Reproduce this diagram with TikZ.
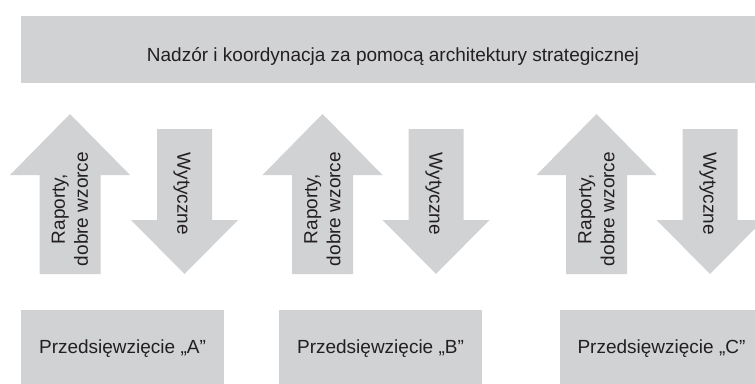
\documentclass[tikz,border=0pt]{standalone}
\usepackage{fontspec}
\setmainfont{Liberation Sans}
\definecolor{boxgray}{RGB}{209,210,212}
\definecolor{inkgray}{RGB}{35,31,32}
\tikzset{
  box/.style={fill=boxgray, text=inkgray, inner sep=0pt},
  arrowfill/.style={fill=boxgray},
  uptext/.style={text=inkgray, align=center, rotate=90, inner sep=0pt},
  downtext/.style={text=inkgray, rotate=-90, inner sep=0pt}
}
\begin{document}
\begin{tikzpicture}[x=1pt, y=-1pt, font=\fontsize{19}{23}\selectfont]
  \clip (0,0) rectangle (755,383);

  \node[box, minimum width=744pt, minimum height=67pt] (top) at (393,49.5) {};
  \node[text=inkgray, inner sep=0pt] (toptext) at ([yshift=-7pt]top.center) {Nadzór i koordynacja za pomocą architektury strategicznej};

  \node[box, minimum width=203pt, minimum height=78pt] (pa) at (122.5,349) {Przedsięwzięcie „A”};
  \node[box, minimum width=203pt, minimum height=78pt] (pb) at (380.5,349) {Przedsięwzięcie „B”};
  \node[box, minimum width=203pt, minimum height=78pt] (pc) at (661.5,349) {Przedsięwzięcie „C”};

  \fill[arrowfill, shift={(70,0)}] (-30.5,274) -- (-30.5,175) -- (-60,175) -- (0,114) -- (60,175) -- (30.5,175) -- (30.5,274) -- cycle;
  \fill[arrowfill, shift={(322.5,0)}] (-30.5,274) -- (-30.5,175) -- (-60,175) -- (0,114) -- (60,175) -- (30.5,175) -- (30.5,274) -- cycle;
  \fill[arrowfill, shift={(596.5,0)}] (-30.5,274) -- (-30.5,175) -- (-60,175) -- (0,114) -- (60,175) -- (30.5,175) -- (30.5,274) -- cycle;

  \fill[arrowfill, shift={(184.5,0)}] (-27.5,129) -- (-27.5,220) -- (-53.5,220) -- (0,274) -- (53.5,220) -- (27.5,220) -- (27.5,129) -- cycle;
  \fill[arrowfill, shift={(436,0)}] (-27.5,129) -- (-27.5,220) -- (-53.5,220) -- (0,274) -- (53.5,220) -- (27.5,220) -- (27.5,129) -- cycle;
  \fill[arrowfill, shift={(710,0)}] (-27.5,129) -- (-27.5,220) -- (-53.5,220) -- (0,274) -- (53.5,220) -- (27.5,220) -- (27.5,129) -- cycle;

  \node[uptext] (ra) at (70,209) {Raporty,\\dobre wzorce};
  \node[uptext] (rb) at (322.5,209) {Raporty,\\dobre wzorce};
  \node[uptext] (rc) at (596.5,209) {Raporty,\\dobre wzorce};

  \node[downtext] (wa) at (182,194) {Wytyczne};
  \node[downtext] (wb) at (434,194) {Wytyczne};
  \node[downtext] (wc) at (708,194) {Wytyczne};
\end{tikzpicture}
\end{document}
